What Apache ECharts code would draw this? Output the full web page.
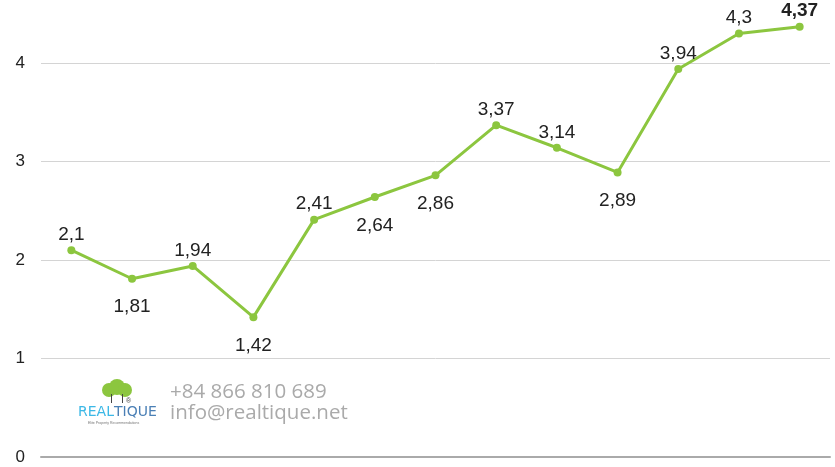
<!DOCTYPE html>
<html><head><meta charset="utf-8">
<script src="https://cdn.jsdelivr.net/npm/echarts@6/dist/echarts.min.js"></script>
<style>html,body{margin:0;padding:0;background:#fff}#c{width:835px;height:467px}</style>
</head><body><div id="c"></div>
<script>
const categories = ['1','2','3','4','5','6','7','8','9','10','11','12','13'];
const values = [2.1, 1.81, 1.94, 1.42, 2.41, 2.64, 2.86, 3.37, 3.14, 2.89, 3.94, 4.3, 4.37];
const labelPos = ['top','bottom','top','bottom','top','bottom','bottom','top','top','bottom','top','top','top'];
const yTicks = [0, 1, 2, 3, 4];

const chart = echarts.init(document.getElementById('c'));
const data = values.map((v, i) => ({
  value: v,
  label: {
    position: labelPos[i],
    distance: labelPos[i] === 'top' ? 2 : 15,
    fontWeight: i === values.length - 1 ? 'bold' : 'normal'
  }
}));
chart.setOption({
  animation: false,
  grid: { left: 41, right: 5, top: 4, bottom: 10, containLabel: false },
  xAxis: {
    type: 'category', data: categories, boundaryGap: true,
    axisLine: { show: true, lineStyle: { color: '#aaa', width: 2 } },
    axisTick: { show: false }, axisLabel: { show: false }
  },
  yAxis: {
    type: 'value', min: 0, max: 4.6, interval: 1,
    axisLabel: { color: '#222', fontSize: 17, fontFamily: 'Liberation Sans', margin: 16,
      showMaxLabel: false,
      formatter: v => yTicks.includes(v) ? String(v) : '' },
    splitLine: { showMaxLine: false, lineStyle: { color: '#d4d4d4', width: 1 } },
    axisLine: { show: false }, axisTick: { show: false }
  },
  series: [{
    type: 'line', data: data,
    lineStyle: { color: '#8cc63f', width: 3 },
    itemStyle: { color: '#8cc63f' },
    symbol: 'circle', symbolSize: 8,
    label: {
      show: true, color: '#222', fontSize: 19, fontFamily: 'Liberation Sans',
      formatter: p => String(p.value).replace('.', ',')
    }
  }],
  graphic: [
    { type: 'circle', shape: { cx: 109, cy: 390, r: 7 }, style: { fill: '#8cc63f' } },
    { type: 'circle', shape: { cx: 117, cy: 387, r: 8 }, style: { fill: '#8cc63f' } },
    { type: 'circle', shape: { cx: 125, cy: 390, r: 7 }, style: { fill: '#8cc63f' } },
    { type: 'rect', shape: { x: 111, y: 394, width: 1, height: 9 }, style: { fill: '#444' } },
    { type: 'rect', shape: { x: 122, y: 394, width: 1, height: 9 }, style: { fill: '#444' } },
    { type: 'text', x: 126, y: 398, style: { text: '®', fill: '#444', fontSize: 7 } },
    { type: 'text', x: 78, y: 405, style: { text: 'REAL', fill: '#3cb8e6', fontSize: 14, fontFamily: 'DejaVu Sans' } },
    { type: 'text', x: 114, y: 405, style: { text: 'TIQUE', fill: '#4a7fb5', fontSize: 14, fontFamily: 'DejaVu Sans' } },
    { type: 'text', x: 88, y: 421, style: { text: 'Elite Property Recommendations', fill: '#777', fontSize: 3.5 } },
    { type: 'text', x: 170, y: 382, style: { text: '+84 866 810 689', fill: '#aaa', fontSize: 20.5, fontFamily: 'Open Sans' } },
    { type: 'text', x: 170, y: 403, style: { text: 'info@realtique.net', fill: '#aaa', fontSize: 20.5, fontFamily: 'Open Sans' } }
  ]
});
</script></body></html>
